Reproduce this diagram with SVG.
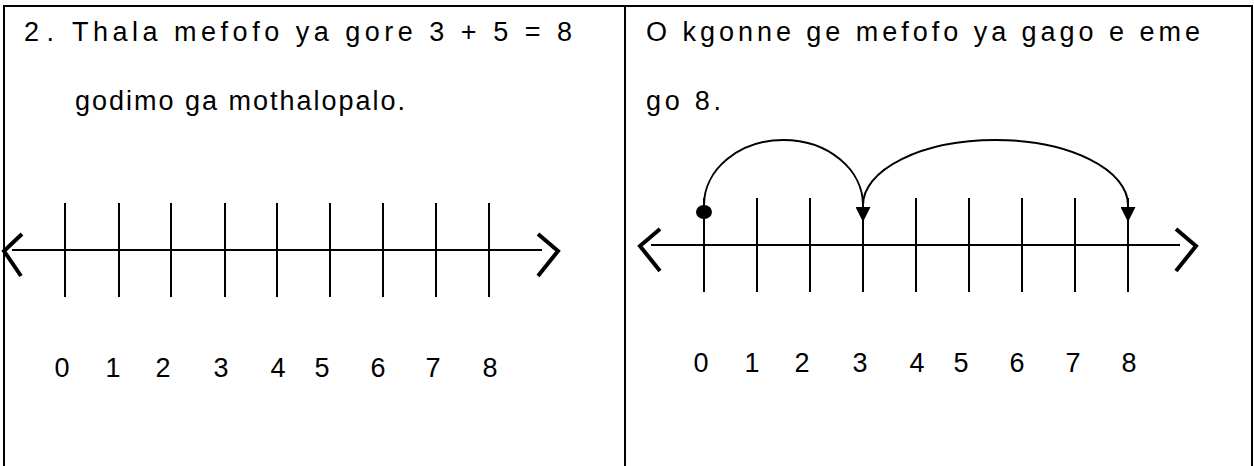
<svg xmlns="http://www.w3.org/2000/svg" width="1254" height="466" viewBox="0 0 1254 466">
<defs>
<style>
.frame{stroke:#000;stroke-width:2;fill:none}
.axis{stroke:#000;stroke-width:2;fill:none}
.tick{stroke:#000;stroke-width:2}
.chev{stroke:#000;stroke-width:4;fill:none;stroke-linejoin:miter}
.hop{stroke:#000;stroke-width:2;fill:none;marker-end:url(#ah)}
.txt{font-family:"Liberation Sans","DejaVu Sans",sans-serif;font-size:27px;fill:#000}
.num{font-family:"Liberation Sans","DejaVu Sans",sans-serif;font-size:27px;fill:#000;text-anchor:middle}
</style>
<marker id="ah" viewBox="0 0 10 10" refX="10" refY="5" markerUnits="userSpaceOnUse" markerWidth="15" markerHeight="15" orient="auto">
<path d="M0,0 L10,5 L0,10 Z" fill="#000"/>
</marker>
</defs>
<rect width="1254" height="466" fill="#fff"/>
<g id="frame" class="frame">
<line x1="3" y1="6" x2="1253" y2="6"/>
<line x1="4" y1="5" x2="4" y2="466"/>
<line x1="625" y1="5" x2="625" y2="466"/>
<line x1="1252" y1="5" x2="1252" y2="466"/>
</g>
<g id="left-text" class="txt">
<text x="24" y="41" textLength="30" lengthAdjust="spacing">2.</text>
<text x="72" y="41" textLength="500" lengthAdjust="spacing">Thala mefofo ya gore 3 + 5 = 8</text>
<text x="75" y="110" textLength="330" lengthAdjust="spacing">godimo ga mothalopalo.</text>
</g>
<g id="right-text" class="txt">
<text x="646" y="41" textLength="554" lengthAdjust="spacing">O kgonne ge mefofo ya gago e eme</text>
<text x="646" y="110" textLength="75" lengthAdjust="spacing">go 8.</text>
</g>
<g id="left-numberline">
<line class="axis" x1="12" y1="250" x2="542" y2="250"/>
<polyline class="chev" points="22,234 4,251 21,276"/>
<polyline class="chev" points="538,234 558,251 538,276"/>
<g class="tick">
<line x1="65" y1="203" x2="65" y2="297"/>
<line x1="119" y1="203" x2="119" y2="297"/>
<line x1="171" y1="203" x2="171" y2="297"/>
<line x1="225" y1="203" x2="225" y2="297"/>
<line x1="277" y1="203" x2="277" y2="297"/>
<line x1="330" y1="203" x2="330" y2="297"/>
<line x1="383" y1="203" x2="383" y2="297"/>
<line x1="436" y1="203" x2="436" y2="297"/>
<line x1="489" y1="203" x2="489" y2="297"/>
</g>
<g class="num">
<text x="62" y="377">0</text>
<text x="113" y="377">1</text>
<text x="163" y="377">2</text>
<text x="221" y="377">3</text>
<text x="278" y="377">4</text>
<text x="322" y="377">5</text>
<text x="378" y="377">6</text>
<text x="433" y="377">7</text>
<text x="490" y="377">8</text>
</g>
</g>
<g id="right-numberline">
<line class="axis" x1="651" y1="245" x2="1180" y2="245"/>
<polyline class="chev" points="660,229 640,246 660,271"/>
<polyline class="chev" points="1176,229 1196,246 1176,271"/>
<g class="tick">
<line x1="704" y1="198" x2="704" y2="292"/>
<line x1="757" y1="198" x2="757" y2="292"/>
<line x1="810" y1="198" x2="810" y2="292"/>
<line x1="863" y1="198" x2="863" y2="292"/>
<line x1="916" y1="198" x2="916" y2="292"/>
<line x1="969" y1="198" x2="969" y2="292"/>
<line x1="1022" y1="198" x2="1022" y2="292"/>
<line x1="1075" y1="198" x2="1075" y2="292"/>
<line x1="1128" y1="198" x2="1128" y2="292"/>
</g>
<g class="num">
<text x="701" y="372">0</text>
<text x="752" y="372">1</text>
<text x="802" y="372">2</text>
<text x="860" y="372">3</text>
<text x="917" y="372">4</text>
<text x="961" y="372">5</text>
<text x="1017" y="372">6</text>
<text x="1073" y="372">7</text>
<text x="1129" y="372">8</text>
</g>
</g>
<g id="connectors">
<ellipse cx="704" cy="212" rx="8" ry="7" fill="#000"/>
<path class="hop" d="M704,212 L704,205 A79.5,65 0 0 1 863,205 L863,222"/>
<path class="hop" d="M863,205 A132.5,65 0 0 1 1128,205 L1128,222"/>
</g>
</svg>
